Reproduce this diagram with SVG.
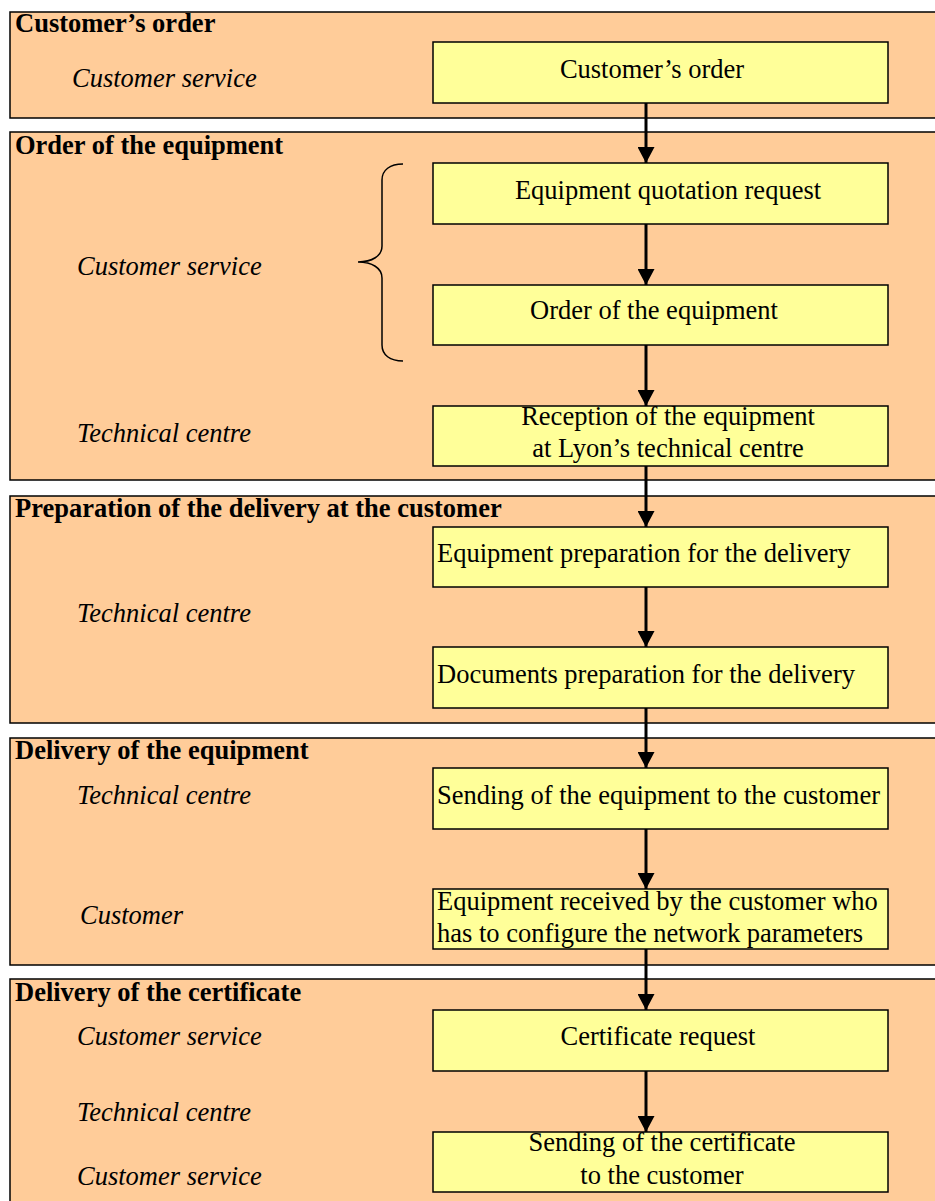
<svg xmlns="http://www.w3.org/2000/svg" width="935" height="1201" viewBox="0 0 935 1201">
<style>
.panel{fill:#FFCC99;stroke:#000;stroke-width:1.5}
.box{fill:#FFFF99;stroke:#000;stroke-width:1.5}
.h{font-family:"Liberation Serif","Times New Roman",serif;font-weight:bold;font-size:26.5px;fill:#000}
.r{font-family:"Liberation Serif","Times New Roman",serif;font-style:italic;font-size:26.5px;fill:#000}
.t{font-family:"Liberation Serif","Times New Roman",serif;font-size:26.5px;fill:#000}
.c{text-anchor:middle}
.conn{stroke:#000;stroke-width:3;fill:none}
</style>
<defs>
<marker id="ah" viewBox="0 0 16 17" refX="16" refY="8.5" markerWidth="16" markerHeight="17" markerUnits="userSpaceOnUse" orient="auto">
<path d="M0,0 L16,8.5 L0,17 Z" fill="#000"/>
</marker>
</defs>
<g id="lane1">
<rect class="panel" x="10" y="12" width="940" height="106"/>
<text class="h" x="15" y="32">Customer’s order</text>
<text class="r" x="72" y="87">Customer service</text>
</g>
<g id="lane2">
<rect class="panel" x="10" y="132" width="940" height="348"/>
<text class="h" x="15" y="154">Order of the equipment</text>
<text class="r" x="77" y="275">Customer service</text>
<text class="r" x="77" y="442">Technical centre</text>
<path d="M403,164 C390,164 382,170 382,180 L382,246 C382,256 372,262 358,262 C372,262 382,268 382,278 L382,345 C382,355 390,361 403,361" fill="none" stroke="#000" stroke-width="1.5"/>
</g>
<g id="lane3">
<rect class="panel" x="10" y="496" width="940" height="227"/>
<text class="h" x="15" y="517">Preparation of the delivery at the customer</text>
<text class="r" x="77" y="622">Technical centre</text>
</g>
<g id="lane4">
<rect class="panel" x="10" y="738" width="940" height="227"/>
<text class="h" x="15" y="759">Delivery of the equipment</text>
<text class="r" x="77" y="804">Technical centre</text>
<text class="r" x="80" y="924">Customer</text>
</g>
<g id="lane5">
<rect class="panel" x="10" y="979" width="940" height="240"/>
<text class="h" x="15" y="1001">Delivery of the certificate</text>
<text class="r" x="77" y="1045">Customer service</text>
<text class="r" x="77" y="1121">Technical centre</text>
<text class="r" x="77" y="1185">Customer service</text>
</g>
<g id="n1"><rect class="box" x="433" y="42" width="455" height="61"/><text class="t c" x="652" y="78">Customer’s order</text></g>
<g id="n2"><rect class="box" x="433" y="163" width="455" height="61"/><text class="t c" x="668" y="199">Equipment quotation request</text></g>
<g id="n3"><rect class="box" x="433" y="285" width="455" height="60"/><text class="t c" x="654" y="319">Order of the equipment</text></g>
<g id="n4"><rect class="box" x="433" y="406" width="455" height="60"/><text class="t c" x="668" y="425">Reception of the equipment</text><text class="t c" x="668" y="457">at Lyon’s technical centre</text></g>
<g id="n5"><rect class="box" x="433" y="527" width="455" height="60"/><text class="t" x="437" y="562">Equipment preparation for the delivery</text></g>
<g id="n6"><rect class="box" x="433" y="647" width="455" height="61"/><text class="t" x="437" y="683">Documents preparation for the delivery</text></g>
<g id="n7"><rect class="box" x="433" y="768" width="455" height="61"/><text class="t" x="437" y="804">Sending of the equipment to the customer</text></g>
<g id="n8"><rect class="box" x="433" y="889" width="455" height="60"/><text class="t" x="437" y="910">Equipment received by the customer who</text><text class="t" x="437" y="942">has to configure the network parameters</text></g>
<g id="n9"><rect class="box" x="433" y="1010" width="455" height="61"/><text class="t c" x="658" y="1045">Certificate request</text></g>
<g id="n10"><rect class="box" x="433" y="1132" width="455" height="60"/><text class="t c" x="662" y="1151">Sending of the certificate</text><text class="t c" x="662" y="1184">to the customer</text></g>
<g id="connectors">
<line class="conn" x1="646" y1="103" x2="646" y2="163" marker-end="url(#ah)"/>
<line class="conn" x1="646" y1="224" x2="646" y2="285" marker-end="url(#ah)"/>
<line class="conn" x1="646" y1="345" x2="646" y2="406" marker-end="url(#ah)"/>
<line class="conn" x1="646" y1="466" x2="646" y2="527" marker-end="url(#ah)"/>
<line class="conn" x1="646" y1="587" x2="646" y2="647" marker-end="url(#ah)"/>
<line class="conn" x1="646" y1="708" x2="646" y2="768" marker-end="url(#ah)"/>
<line class="conn" x1="646" y1="829" x2="646" y2="889" marker-end="url(#ah)"/>
<line class="conn" x1="646" y1="949" x2="646" y2="1010" marker-end="url(#ah)"/>
<line class="conn" x1="646" y1="1071" x2="646" y2="1132" marker-end="url(#ah)"/>
</g>
</svg>
